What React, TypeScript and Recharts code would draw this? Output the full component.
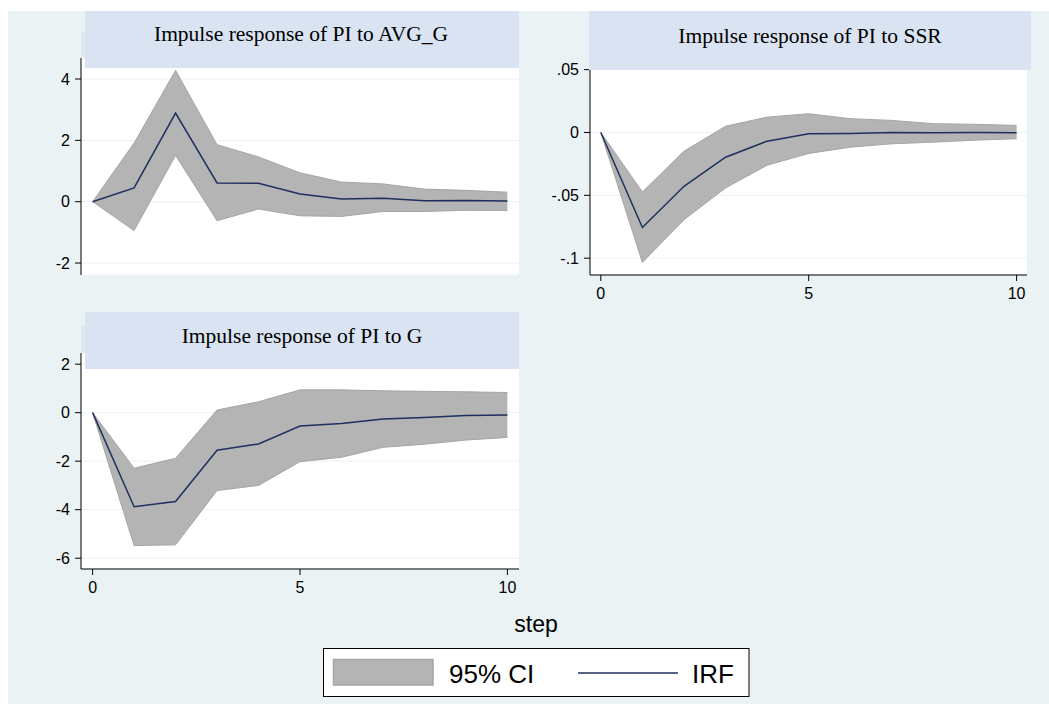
import { ComposedChart, Area, Line, XAxis, YAxis, CartesianGrid } from 'recharts';

// impulse-response steps
const steps = [0, 1, 2, 3, 4, 5, 6, 7, 8, 9, 10];

// PI to AVG_G
const avgIrf = [0, 0.45, 2.89, 0.61, 0.6, 0.25, 0.09, 0.11, 0.03, 0.04, 0.02];
const avgLo = [0, -0.94, 1.51, -0.62, -0.24, -0.46, -0.48, -0.32, -0.32, -0.28, -0.29];
const avgHi = [0, 1.91, 4.28, 1.86, 1.46, 0.94, 0.64, 0.58, 0.41, 0.37, 0.31];

// PI to SSR
const ssrIrf = [0, -0.0756, -0.0428, -0.0197, -0.0069, -0.001, -0.0008, 0, -0.0003, 0, -0.0002];
const ssrLo = [0, -0.1034, -0.0694, -0.0441, -0.0261, -0.0167, -0.0117, -0.009, -0.0077, -0.0061, -0.005];
const ssrHi = [0, -0.0473, -0.0149, 0.005, 0.0122, 0.0149, 0.011, 0.0096, 0.007, 0.0065, 0.0056];

// PI to G
const gIrf = [0, -3.88, -3.66, -1.55, -1.29, -0.55, -0.45, -0.26, -0.2, -0.12, -0.1];
const gLo = [0, -5.48, -5.45, -3.21, -3.0, -2.02, -1.84, -1.43, -1.3, -1.13, -1.02];
const gHi = [0, -2.29, -1.88, 0.11, 0.45, 0.94, 0.94, 0.9, 0.88, 0.86, 0.83];

const xTicks = [0, 5, 10];
const avgTicks = [-2, 0, 2, 4];
const ssrTicks = [-0.1, -0.05, 0, 0.05];
const gTicks = [-6, -4, -2, 0, 2];

const titles = ['Impulse response of PI to AVG_G', 'Impulse response of PI to SSR', 'Impulse response of PI to G'];

const build = (irf: number[], lo: number[], hi: number[]) =>
  steps.map((s, i) => ({ step: s, irf: irf[i], ci: [lo[i], hi[i]] }));

const BG = '#eaf2f3';
const BAND = '#d9e3f1';
const CI_FILL = '#b4b4b4';
const CI_EDGE = '#a5a5a5';
const NAVY = '#1f2f5f';
const SANS = '"Liberation Sans", Arial, sans-serif';
const SERIF = '"Liberation Serif", "Times New Roman", serif';

const fmt = (v: number) => (v === 0 ? '0' : String(v).replace(/^(-?)0\./, '$1.'));

const tickStyle = { fill: '#000', fontSize: 16, fontFamily: SANS };

type PanelProps = {
  data: any[];
  left: number;
  top: number;
  width: number;
  height: number;
  padTop: number;
  yWidth: number;
  xDomain: number[];
  yDomain: number[];
  yTicks: number[];
  showX: boolean;
};

const Panel = ({ data, left, top, width, height, padTop, yWidth, xDomain, yDomain, yTicks, showX }: PanelProps) => (
  <div style={{ position: 'absolute', left, top }}>
    <ComposedChart width={width} height={height} data={data} margin={{ top: padTop, right: 0, bottom: 0, left: 0 }}>
      <CartesianGrid vertical={false} stroke={BG} fill="#fff" fillOpacity={1} />
      <XAxis
        type="number"
        dataKey="step"
        domain={xDomain}
        ticks={xTicks}
        allowDataOverflow
        hide={!showX}
        height={showX ? 35 : 0}
        tickSize={6}
        tickMargin={7}
        stroke="#000"
        tick={tickStyle}
      />
      <YAxis
        type="number"
        domain={yDomain}
        ticks={yTicks}
        interval={0}
        allowDataOverflow
        width={yWidth}
        tickSize={6}
        tickMargin={5}
        stroke="#000"
        tick={tickStyle}
        tickFormatter={fmt}
      />
      <Area
        type="linear"
        dataKey="ci"
        fill={CI_FILL}
        fillOpacity={1}
        stroke={CI_EDGE}
        strokeWidth={1}
        dot={false}
        activeDot={false}
        isAnimationActive={false}
      />
      <Line
        type="linear"
        dataKey="irf"
        stroke={NAVY}
        strokeWidth={1.5}
        dot={false}
        activeDot={false}
        isAnimationActive={false}
      />
    </ComposedChart>
  </div>
);

export default function App() {
  return (
    <div style={{ position: 'absolute', left: 0, top: 0, width: 1049, height: 704, background: '#fff', overflow: 'hidden' }}>
      <div style={{ position: 'absolute', left: 8, top: 11, width: 1041, height: 693, background: BG }} />
      <div style={{ position: 'absolute', left: 81, top: 32, width: 4, height: 26, background: '#dee7eb' }} />
      <div style={{ position: 'absolute', left: 81, top: 326, width: 4, height: 27, background: '#dee7eb' }} />

      <Panel
        data={build(avgIrf, avgLo, avgHi)}
        left={0}
        top={48}
        width={519}
        height={227}
        padTop={10}
        yWidth={81}
        xDomain={[-0.28, 10.28]}
        yDomain={[-2.39, 4.685]}
        yTicks={avgTicks}
        showX={false}
      />
      <Panel
        data={build(ssrIrf, ssrLo, ssrHi)}
        left={520}
        top={56}
        width={507}
        height={254}
        padTop={12}
        yWidth={70}
        xDomain={[-0.26, 10.25]}
        yDomain={[-0.1134, 0.0513]}
        yTicks={ssrTicks}
        showX
      />
      <Panel
        data={build(gIrf, gLo, gHi)}
        left={0}
        top={343}
        width={519}
        height={261}
        padTop={10}
        yWidth={81}
        xDomain={[-0.28, 10.28]}
        yDomain={[-6.445, 2.46]}
        yTicks={gTicks}
        showX
      />

      <svg width={1049} height={704} style={{ position: 'absolute', left: 0, top: 0, pointerEvents: 'none' }}>
        <rect x={85} y={11} width={434} height={57} fill={BAND} />
        <rect x={589} y={11} width={442} height={59} fill={BAND} />
        <rect x={85} y={312} width={434} height={57} fill={BAND} />
        <text x={301} y={41} textAnchor="middle" fontFamily={SERIF} fontSize={21.5} fill="#000">{titles[0]}</text>
        <text x={810} y={43} textAnchor="middle" fontFamily={SERIF} fontSize={21.5} fill="#000">{titles[1]}</text>
        <text x={302} y={342.7} textAnchor="middle" fontFamily={SERIF} fontSize={21.5} fill="#000">{titles[2]}</text>

        <text x={536} y={632} textAnchor="middle" fontFamily={SANS} fontSize={23} fill="#000">step</text>

        <rect x={323.5} y={648.5} width={425.5} height={48} fill="#fff" stroke="#000" strokeWidth={1} />
        <rect x={333.5} y={659.5} width={99.5} height={25.5} fill={CI_FILL} stroke={CI_EDGE} strokeWidth={1.5} />
        <text x={449} y={683} fontFamily={SANS} fontSize={26} fill="#000">95% CI</text>
        <line x1={578} x2={678} y1={673} y2={673} stroke={NAVY} strokeWidth={1.5} />
        <text x={692} y={683} fontFamily={SANS} fontSize={26} fill="#000">IRF</text>
      </svg>
    </div>
  );
}
